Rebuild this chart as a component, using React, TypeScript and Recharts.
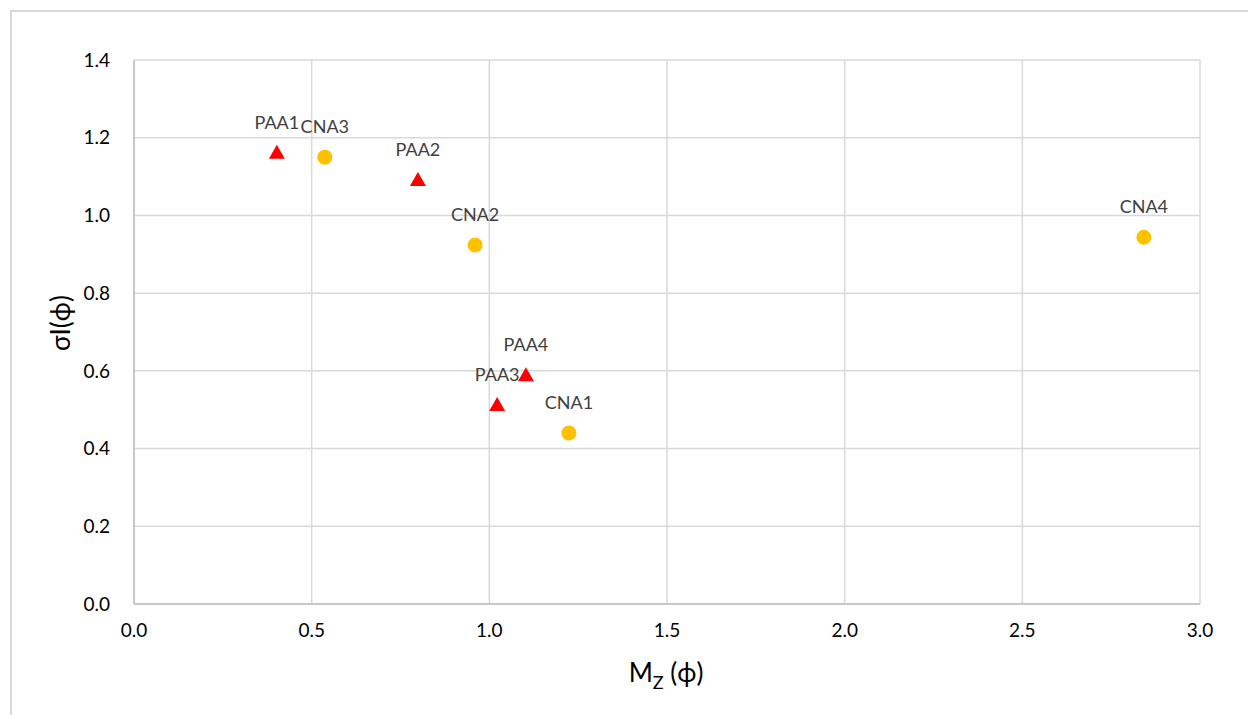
import React from 'react';
import { ScatterChart, Scatter, XAxis, YAxis, CartesianGrid } from 'recharts';

const paaNames = ['PAA1', 'PAA2', 'PAA3', 'PAA4'];
const paaX = [0.402, 0.799, 1.022, 1.103];
const paaY = [1.161, 1.091, 0.512, 0.589];

const cnaNames = ['CNA1', 'CNA2', 'CNA3', 'CNA4'];
const cnaX = [1.224, 0.96, 0.537, 2.842];
const cnaY = [0.44, 0.924, 1.15, 0.944];

const xTicks = [0, 0.5, 1.0, 1.5, 2.0, 2.5, 3.0];
const yTicks = [0, 0.2, 0.4, 0.6, 0.8, 1.0, 1.2, 1.4];

const paaData = paaNames.map((n, i) => ({ name: n, x: paaX[i], y: paaY[i] }));
const cnaData = cnaNames.map((n, i) => ({ name: n, x: cnaX[i], y: cnaY[i] }));

const FONT = 'Lato, "Open Sans", sans-serif';

const labelText = (cx: number, cy: number, name: string) => (
  <text x={cx} y={cy - 31} textAnchor="middle" dominantBaseline="central" fill="#404040" fontSize={18} fontFamily={FONT}>
    {name}
  </text>
);

const Triangle = (props: any) => {
  const { cx, cy, payload } = props;
  const w = 16;
  const h = 14;
  return (
    <g>
      <polygon points={`${cx},${cy - h / 2 - 1} ${cx + w / 2},${cy + h / 2 - 1} ${cx - w / 2},${cy + h / 2 - 1}`} fill="#FF0000" />
      {labelText(cx, cy, payload.name)}
    </g>
  );
};

const Dot = (props: any) => {
  const { cx, cy, payload } = props;
  return (
    <g>
      <circle cx={cx} cy={cy} r={7.5} fill="#FFC000" />
      {labelText(cx, cy, payload.name)}
    </g>
  );
};

export default function App() {
  return (
    <div style={{ position: 'absolute', left: 0, top: 0, width: 1248, height: 715, background: '#fff', overflow: 'hidden' }}>
      <div style={{ position: 'absolute', left: 10, top: 10, width: 1300, height: 800, borderLeft: '2px solid #d9d9d9', borderTop: '2px solid #d9d9d9' }} />
      <div style={{ position: 'absolute', left: 0, top: 0 }}>
        <ScatterChart width={1248} height={715} margin={{ top: 60, right: 48, bottom: 51, left: 74 }}>
          <CartesianGrid stroke="#d9d9d9" strokeWidth={1.5} />
          <XAxis
            type="number"
            dataKey="x"
            domain={[0, 3]}
            ticks={xTicks}
            tickFormatter={(v: number) => v.toFixed(1)}
            height={60}
            tickLine={false}
            tickSize={0}
            tickMargin={20}
            axisLine={{ stroke: '#bfbfbf', strokeWidth: 1.5 }}
            tick={{ fill: '#000', fontSize: 19, fontFamily: FONT }}
          />
          <YAxis
            type="number"
            dataKey="y"
            domain={[0, 1.4]}
            ticks={yTicks}
            tickFormatter={(v: number) => v.toFixed(1)}
            width={60}
            tickLine={false}
            tickSize={0}
            tickMargin={24}
            axisLine={{ stroke: '#bfbfbf', strokeWidth: 1.5 }}
            tick={{ fill: '#000', fontSize: 19, fontFamily: FONT }}
          />
          <Scatter data={paaData} shape={Triangle} isAnimationActive={false} />
          <Scatter data={cnaData} shape={Dot} isAnimationActive={false} />
        </ScatterChart>
      </div>
      <svg width={1248} height={715} style={{ position: 'absolute', left: 0, top: 0, pointerEvents: 'none' }}>
        <text x={666} y={682} textAnchor="middle" fontSize={26} fontFamily={FONT} fill="#000">
          M<tspan fontSize={18} dy={7}>Z</tspan>
          <tspan dy={-7}> (ϕ)</tspan>
        </text>
        <text
          x={60}
          y={323}
          textAnchor="middle"
          dominantBaseline="central"
          fontSize={26}
          fontFamily={FONT}
          fill="#000"
          transform="rotate(-90 60 323)"
        >
          σI(ϕ)
        </text>
      </svg>
    </div>
  );
}
